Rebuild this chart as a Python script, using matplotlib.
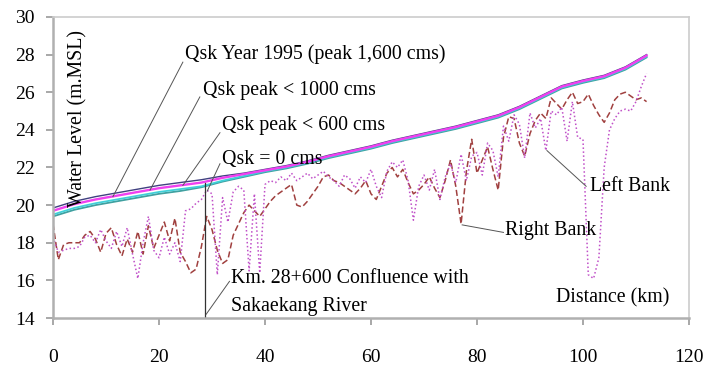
import numpy as np
import matplotlib
matplotlib.use("Agg")
import matplotlib.pyplot as plt

plt.rcParams['font.family'] = ['Liberation Serif', 'DejaVu Serif']

# water level profiles, every 4 km
dist_wl = [0, 4, 8, 12, 16, 20, 24, 28, 32, 36, 40, 44, 48, 52, 56, 60,
           64, 68, 72, 76, 80, 84, 88, 92, 96, 100, 104, 108, 112]
wl_1995 = [19.85, 20.2, 20.45, 20.65, 20.85, 21.05, 21.2, 21.35, 21.55, 21.7,
           21.9, 22.1, 22.35, 22.65, 22.9, 23.15, 23.45, 23.7, 23.95, 24.2,
           24.5, 24.8, 25.25, 25.8, 26.35, 26.65, 26.9, 27.35, 28.0]
wl_1000 = [19.7, 20.05, 20.3, 20.5, 20.7, 20.9, 21.05, 21.2, 21.45, 21.65,
           21.85, 22.05, 22.3, 22.6, 22.85, 23.1, 23.4, 23.65, 23.9, 24.15,
           24.45, 24.75, 25.2, 25.75, 26.3, 26.6, 26.85, 27.3, 27.95]
wl_600 = [19.5, 19.85, 20.1, 20.3, 20.5, 20.7, 20.85, 21.0, 21.3, 21.55,
          21.8, 22.0, 22.25, 22.55, 22.8, 23.05, 23.35, 23.6, 23.85, 24.1,
          24.4, 24.7, 25.15, 25.7, 26.25, 26.55, 26.8, 27.25, 27.9]
wl_0 = [19.4, 19.75, 20.0, 20.2, 20.4, 20.6, 20.75, 20.95, 21.25, 21.5,
        21.75, 21.95, 22.2, 22.5, 22.75, 23.0, 23.3, 23.55, 23.8, 24.05,
        24.35, 24.65, 25.1, 25.65, 26.2, 26.5, 26.75, 27.2, 27.85]

# bank levels, every 1 km (0..112)
dist_bank = list(range(0, 113))
right_bank = [19.0, 17.1, 17.9, 18.0, 18.0, 18.0, 18.4, 18.6, 18.2, 17.5,
              18.5, 18.8, 17.9, 17.3, 18.2, 17.5, 18.6, 17.4, 18.9, 17.7,
              18.4, 19.1, 18.1, 19.3, 17.5, 17.0, 16.4, 16.6, 17.8, 19.4,
              18.7, 17.6, 16.9, 17.1, 18.4, 19.0, 19.6, 20.0, 19.7, 19.4,
              19.8, 20.2, 20.5, 20.7, 20.9, 21.1, 20.0, 19.9, 20.2, 20.6,
              21.0, 21.5, 21.6, 21.3, 21.2, 21.0, 20.8, 20.6, 20.9, 21.3,
              20.6, 20.3, 21.0, 21.7, 22.0, 21.5, 21.9, 21.2, 20.6, 20.8,
              21.1, 21.5, 20.9, 20.4, 21.3, 22.4, 21.0, 19.0, 21.8, 23.5,
              21.7, 22.4, 23.1, 21.9, 20.8, 23.6, 24.7, 24.6, 23.3, 22.6,
              23.8, 24.5, 24.9, 24.6, 25.7, 25.4, 25.1, 25.6, 26.0, 25.4,
              25.5, 25.9, 25.3, 24.8, 24.4, 24.9, 25.6, 25.9, 26.0, 25.8,
              25.6, 25.7, 25.5]
left_bank = [18.3, 17.5, 17.6, 17.7, 17.7, 17.8, 18.3, 18.4, 18.0, 18.7,
             18.1, 17.7, 18.6, 17.8, 18.8, 17.4, 16.1, 18.0, 19.4, 17.6,
             17.2, 18.3, 17.4, 18.0, 17.0, 19.7, 19.8, 20.1, 20.3, 20.8,
             20.6, 16.3, 20.4, 19.1, 20.7, 21.0, 20.8, 16.5, 20.6, 16.4,
             21.1, 21.3, 21.2, 21.5, 21.3, 21.7, 21.3, 21.5, 21.7, 21.4,
             21.6, 21.8, 21.5, 21.3, 21.0, 21.6, 21.4, 20.9, 21.5, 21.2,
             21.9, 21.0, 20.4, 21.8, 22.3, 22.0, 22.4, 21.3, 19.2, 21.0,
             21.6, 20.8, 21.9, 20.3, 21.5, 22.2, 21.2, 22.7, 21.3, 22.6,
             22.8, 21.6, 23.3, 22.9, 21.5, 24.2, 23.4, 24.8, 24.3, 22.5,
             24.9, 24.1, 24.6, 22.9, 25.0, 24.8, 25.2, 23.4, 25.5, 23.6,
             23.5, 16.3, 16.1, 17.2, 22.0, 24.0, 24.6, 25.0, 25.1, 25.0,
             25.5, 26.3, 27.0]

confluence_km = 28.6

fig = plt.figure(figsize=(7.07, 3.67), dpi=100)
ax = fig.add_axes([0.075, 0.1335, 0.8995, 0.8202])

ax.plot(dist_bank, right_bank, color='#a0403f', lw=1.1, ls=(0, (4, 2)))
ax.plot(dist_bank, left_bank, color='#c050c8', lw=1.1, ls=(0, (1, 1.6)))

ax.plot(dist_wl, wl_0, color='#40a0a0', lw=1.3)
ax.plot(dist_wl, wl_600, color='#40d0d8', lw=1.3)
ax.plot(dist_wl, wl_1995, color='#404080', lw=1.0)
ax.plot(dist_wl, wl_1000, color='#f040f0', lw=1.7)

# confluence marker
ax.plot([confluence_km, confluence_km], [14, 21.2], color='#333333', lw=0.9)

# labels with leader lines
lead = dict(color='#555555', lw=0.7)
fs = 14.3
ax.text(24.9, 28.0, 'Qsk Year 1995 (peak 1,600 cms)', fontsize=fs, va='center')
ax.plot([24.5, 11.3], [27.6, 20.45], **lead)
ax.text(28.3, 26.1, 'Qsk peak < 1000 cms', fontsize=fs, va='center')
ax.plot([27.7, 18.3], [25.75, 20.8], **lead)
ax.text(31.9, 24.25, 'Qsk peak < 600 cms', fontsize=fs, va='center')
ax.plot([31.5, 24.5], [23.85, 21.05], **lead)
ax.text(31.9, 22.4, 'Qsk = 0 cms', fontsize=fs, va='center')
ax.plot([31.5, 29.1], [22.2, 20.75], **lead)

ax.text(101.3, 21.0, 'Left Bank', fontsize=fs, va='center')
ax.plot([93.2, 100.6], [22.9, 21.0], **lead)
ax.text(85.3, 18.65, 'Right Bank', fontsize=fs, va='center')
ax.plot([77.2, 85.0], [18.95, 18.55], **lead)

ax.text(33.6, 16.1, 'Km. 28+600 Confluence with', fontsize=fs, va='center')
ax.text(33.6, 14.6, 'Sakaekang River', fontsize=fs, va='center')
ax.plot([33.3, 28.9], [15.95, 14.2], **lead)

ax.text(95.0, 15.05, 'Distance (km)', fontsize=fs, va='center')
ax.text(4.6, 24.6, 'Water Level (m.MSL)', fontsize=fs, rotation=90,
        va='center', ha='center')

ax.set_xlim(0, 120)
ax.set_ylim(14, 30)
ax.set_xticks(np.arange(0, 121, 20))
ax.set_yticks(np.arange(14, 31, 2))
ax.tick_params(axis='both', labelsize=14, color='#999999', length=5,
               width=1.2)
ax.tick_params(axis='x', pad=17)
ax.tick_params(axis='y', pad=8)
for side in ['top', 'right']:
    ax.spines[side].set_color('#cccccc')
    ax.spines[side].set_linewidth(1.2)
for side in ['left', 'bottom']:
    ax.spines[side].set_color('#b0b0b0')
    ax.spines[side].set_linewidth(1.8)

fig.savefig('out.png', dpi=100)
